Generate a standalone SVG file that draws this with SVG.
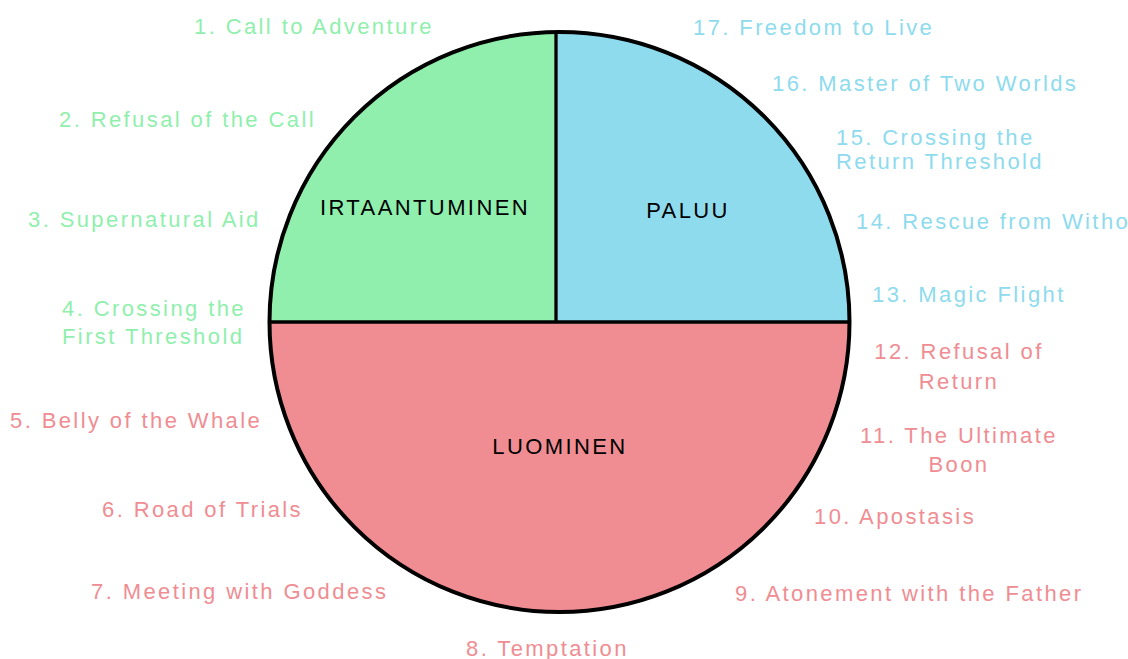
<svg xmlns="http://www.w3.org/2000/svg" width="1128" height="659" viewBox="0 0 1128 659">
<style>
text{font-family:"Liberation Sans",Arial,sans-serif;font-size:22px;letter-spacing:2.4px}
.g{fill:#90EFAD}.b{fill:#8EDBEE}.r{fill:#EF8D93}
.lab{fill:#000}
.m{text-anchor:middle}
.div{stroke:#000;stroke-width:3.3;fill:none}
</style>
<rect width="1128" height="659" fill="#fff"/>
<g id="luominen">
<path class="r" d="M269.5 322 A290 290 0 0 0 849.5 322 Z"/>
<text class="lab m" x="560" y="454">LUOMINEN</text>
</g>
<g id="irtaantuminen">
<path class="g" d="M556 322 L269.5 322 A290 290 0 0 1 556 32.02 Z"/>
<text class="lab m" x="425" y="215">IRTAANTUMINEN</text>
</g>
<g id="paluu">
<path class="b" d="M556 322 L556 32.02 A290 290 0 0 1 849.5 322 Z"/>
<text class="lab m" x="688" y="218">PALUU</text>
</g>
<g id="connectors">
<line class="div" x1="269.5" y1="322" x2="849.5" y2="322"/>
<line class="div" x1="556" y1="32" x2="556" y2="322"/>
<circle cx="559.5" cy="322" r="290" fill="none" stroke="#000" stroke-width="4"/>
</g>
<g id="labels">
<text class="g" x="194" y="34">1. Call to Adventure</text>
<text class="g" x="59" y="127">2. Refusal of the Call</text>
<text class="g" x="28" y="227">3. Supernatural Aid</text>
<text class="g" x="62" y="316">4. Crossing the</text>
<text class="g" x="62" y="344">First Threshold</text>
<text class="r" x="10" y="428">5. Belly of the Whale</text>
<text class="r" x="102" y="517">6. Road of Trials</text>
<text class="r" x="91" y="599">7. Meeting with Goddess</text>
<text class="r" x="466" y="656">8. Temptation</text>
<text class="r" x="735" y="601">9. Atonement with the Father</text>
<text class="r" x="814" y="524">10. Apostasis</text>
<text class="r m" x="959" y="443">11. The Ultimate</text>
<text class="r m" x="959" y="472">Boon</text>
<text class="r m" x="959" y="359">12. Refusal of</text>
<text class="r m" x="959" y="389">Return</text>
<text class="b" x="872" y="302">13. Magic Flight</text>
<text class="b" x="856" y="229">14. Rescue from Without</text>
<text class="b" x="836" y="145">15. Crossing the</text>
<text class="b" x="836" y="169">Return Threshold</text>
<text class="b" x="772" y="91">16. Master of Two Worlds</text>
<text class="b" x="693" y="35">17. Freedom to Live</text>
</g>
</svg>
